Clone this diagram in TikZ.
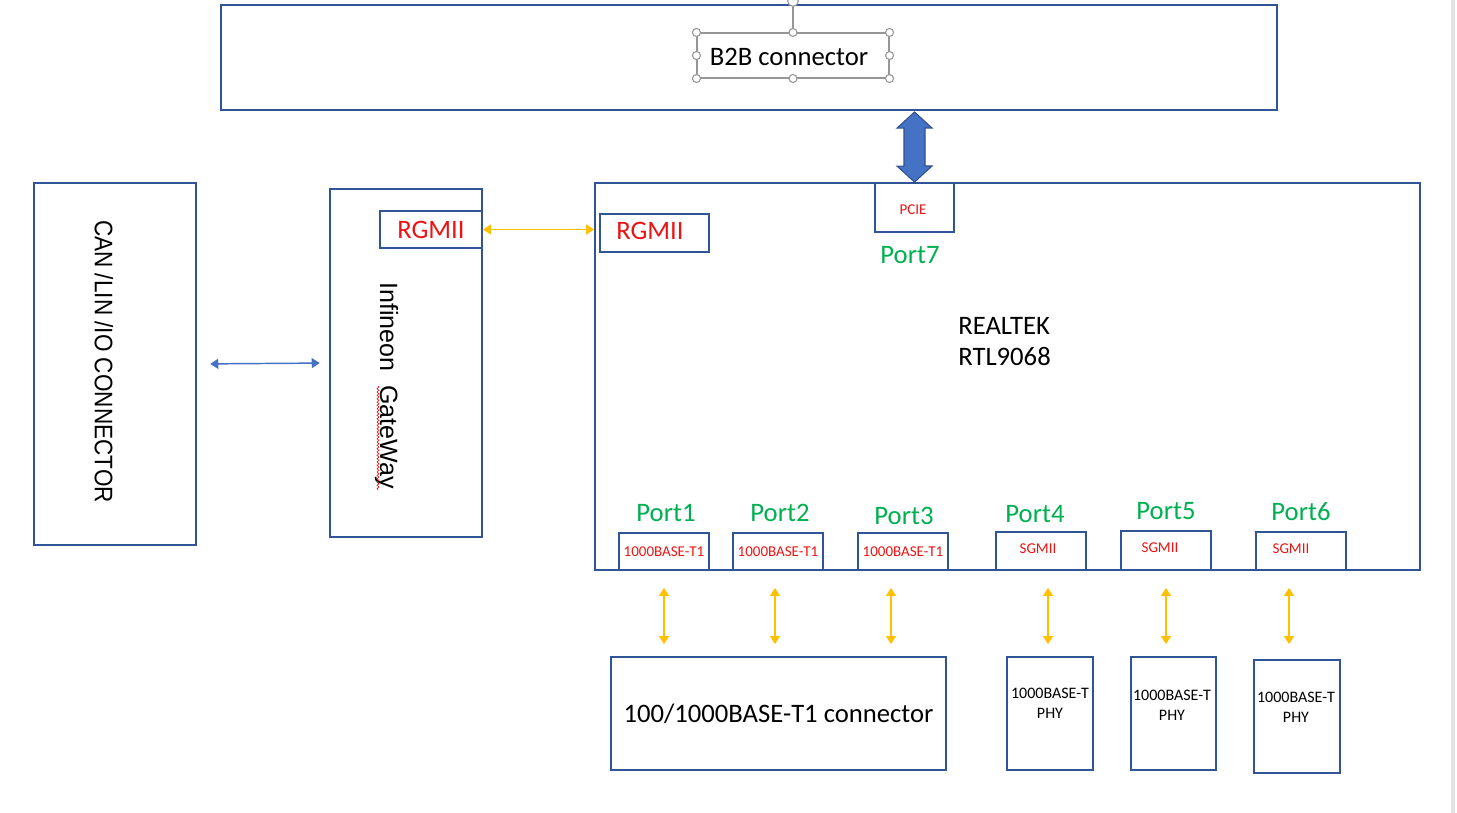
\documentclass[tikz,border=0pt]{standalone}
\usepackage{fontspec}
\setmainfont{Carlito}
\newfontfamily\arialfont{Liberation Sans}
\usetikzlibrary{arrows.meta,decorations.pathmorphing}
\definecolor{boxblue}{RGB}{47,85,151}
\definecolor{arrblue}{RGB}{68,114,196}
\definecolor{arrline}{RGB}{47,82,143}
\definecolor{portred}{RGB}{235,20,20}
\definecolor{portgreen}{RGB}{0,176,80}
\definecolor{linkyellow}{RGB}{255,192,0}
\definecolor{handlegray}{RGB}{150,150,150}
\begin{document}
\begin{tikzpicture}[x=0.75pt,y=-0.75pt,
		blk/.style={draw=boxblue,line width=1.4pt,inner sep=0pt},
		redtxt/.style={text=portred,inner sep=0pt,font=\fontsize{11.25}{13}\selectfont},
		bigred/.style={text=portred,inner sep=0pt,font=\fontsize{20}{24}\selectfont},
		porttxt/.style={text=portgreen,inner sep=0pt,font=\fontsize{20}{24}\selectfont},
		phytxt/.style={align=center,inner sep=0pt,font=\fontsize{12}{15}\selectfont},
		ylink/.style={draw=linkyellow,line width=1.1pt,{Triangle[width=7.5pt,length=6pt]}-{Triangle[width=7.5pt,length=6pt]}},
		blink/.style={draw=arrblue,line width=1.1pt,{Triangle[width=7.5pt,length=6pt]}-{Triangle[width=7.5pt,length=6pt]}},
		bigarrow/.style={fill=arrblue,draw=arrline,line width=0.8pt,line join=miter},
		handle/.style={draw=handlegray,fill=white,line width=0.8pt}]
		\useasboundingbox (0,0) rectangle (1457,813);
		\fill[gray!22] (1451,0) rectangle (1455,813);
		% B2B board
		\node[blk,minimum width=1056*0.75pt,minimum height=105*0.75pt] (b2b) at (749,57.5) {};
		\node[draw=handlegray,line width=0.8pt,minimum width=192*0.75pt,minimum height=45*0.75pt] (b2bsel) at (793,55.5) {};
		\node[inner sep=0pt,font=\fontsize{20}{24}\selectfont] (b2btxt) at (789,57) {B2B connector};
		\draw[handlegray,line width=0.8pt] (b2bsel.north) -- (793,5);
		\draw[handle] (793,1) circle (4pt);
		\path[handle] (b2bsel.north west) circle (3pt) (b2bsel.north) circle (3pt) (b2bsel.north east) circle (3pt)
			(b2bsel.east) circle (3pt) (b2bsel.south east) circle (3pt) (b2bsel.south) circle (3pt)
			(b2bsel.south west) circle (3pt) (b2bsel.west) circle (3pt);
		% left side
		\node[blk,minimum width=162*0.75pt,minimum height=362*0.75pt] (can) at (115,364) {};
		\node[rotate=-90,inner sep=0pt,font=\arialfont\fontsize{19}{22}\selectfont] (cantxt) at (104,361.5) {\scalebox{0.89}[1]{CAN /LIN /IO CONNECTOR}};
		\node[blk,minimum width=152*0.75pt,minimum height=348*0.75pt] (gw) at (406,363) {};
		\node[rotate=-90,inner sep=0pt,font=\arialfont\fontsize{18.75}{22}\selectfont] (gwtxt) at (386.5,385.5) {Infineon\ \ GateWay};
		\draw[portred,line width=0.5pt,decorate,decoration={snake,amplitude=0.7pt,segment length=2.5pt}] (378,386) -- (378,490);
		\node[blk,minimum width=102*0.75pt,minimum height=37*0.75pt,bigred] (rgmiia) at (431,229.5) {RGMII};
		% switch
		\node[blk,minimum width=825*0.75pt,minimum height=387*0.75pt] (rtk) at (1007.5,376.5) {};
		\node[blk,minimum width=109*0.75pt,minimum height=38*0.75pt] (rgmiib) at (654.5,233) {};
		\node[bigred] (rgmiibtxt) at (650,231) {RGMII};
		\node[blk,minimum width=79*0.75pt,minimum height=49*0.75pt] (pcie) at (914.5,207.5) {};
		\node[redtxt] (pcietxt) at (913,210) {PCIE};
		\node[porttxt] (port7) at (910,255) {Port7};
		\node[anchor=west,align=left,inner sep=0pt,font=\fontsize{20}{23.25}\selectfont] (rtktxt) at (958,342) {REALTEK\\RTL9068};
		\node[blk,minimum width=90*0.75pt,minimum height=37*0.75pt,redtxt] (p1) at (664,551.5) {1000BASE-T1};
		\node[blk,minimum width=90*0.75pt,minimum height=37*0.75pt,redtxt] (p2) at (778,551.5) {1000BASE-T1};
		\node[blk,minimum width=90*0.75pt,minimum height=37*0.75pt,redtxt] (p3) at (903,551.5) {1000BASE-T1};
		\node[blk,minimum width=90*0.75pt,minimum height=38*0.75pt] (p4) at (1041,551) {};
		\node[blk,minimum width=90*0.75pt,minimum height=39*0.75pt] (p5) at (1166,550.5) {};
		\node[blk,minimum width=90*0.75pt,minimum height=38*0.75pt] (p6) at (1301,551) {};
		\node[redtxt] (p4txt) at (1038,549) {SGMII};
		\node[redtxt] (p5txt) at (1160,548) {SGMII};
		\node[redtxt] (p6txt) at (1291,549) {SGMII};
		\node[porttxt] (port1) at (666,513) {Port1};
		\node[porttxt] (port2) at (780,513) {Port2};
		\node[porttxt] (port3) at (904,516) {Port3};
		\node[porttxt] (port4) at (1035,514) {Port4};
		\node[porttxt] (port5) at (1166,511) {Port5};
		\node[porttxt] (port6) at (1301,512) {Port6};
		% bottom row
		\node[blk,minimum width=335*0.75pt,minimum height=113*0.75pt,font=\fontsize{20}{24}\selectfont] (tone) at (778.5,713.5) {100/1000BASE-T1 connector};
		\node[blk,minimum width=86*0.75pt,minimum height=113*0.75pt] (phy4) at (1050,713.5) {};
		\node[blk,minimum width=85*0.75pt,minimum height=113*0.75pt] (phy5) at (1173.5,713.5) {};
		\node[blk,minimum width=86*0.75pt,minimum height=113*0.75pt] (phy6) at (1297,716.5) {};
		\node[phytxt] (phy4txt) at (1050,703) {1000BASE-T\\PHY};
		\node[phytxt] (phy5txt) at (1172,705.5) {1000BASE-T\\PHY};
		\node[phytxt] (phy6txt) at (1296,707.5) {1000BASE-T\\PHY};
		% links
		\coordinate (ptop) at (914.5,112);
		\draw[bigarrow] (ptop) -- ++(17.5,16) -- ++(-7,0) -- ++(0,38) -- ++(7,0) -- (pcie.north)
			-- ++(-17.5,-16) -- ++(7,0) -- ++(0,-38) -- ++(-7,0) -- cycle;
		\draw[blink,shorten <=10pt,shorten >=7pt] (can.east) -- (gw.west);
		\draw[ylink] (rgmiia.east) -- (rgmiia.east -| rtk.west);
		\draw[ylink,shorten <=12.75pt,shorten >=9pt] (p1.south) -- (p1.south |- tone.north);
		\draw[ylink,shorten <=12.75pt,shorten >=9pt] ([xshift=-2.25pt]p2.south) -- ([xshift=-2.25pt]p2.south |- tone.north);
		\draw[ylink,shorten <=12.75pt,shorten >=9pt] ([xshift=-9pt]p3.south) -- ([xshift=-9pt]p3.south |- tone.north);
		\draw[ylink,shorten <=12.75pt,shorten >=9pt] ([xshift=5.25pt]p4.south) -- ([xshift=5.25pt]p4.south |- phy4.north);
		\draw[ylink,shorten <=12.75pt,shorten >=9pt] (p5.south) -- (p5.south |- phy5.north);
		\draw[ylink,shorten <=12.75pt,shorten >=11.25pt] ([xshift=-9pt]p6.south) -- ([xshift=-9pt]p6.south |- phy6.north);
	\end{tikzpicture}
\end{document}
